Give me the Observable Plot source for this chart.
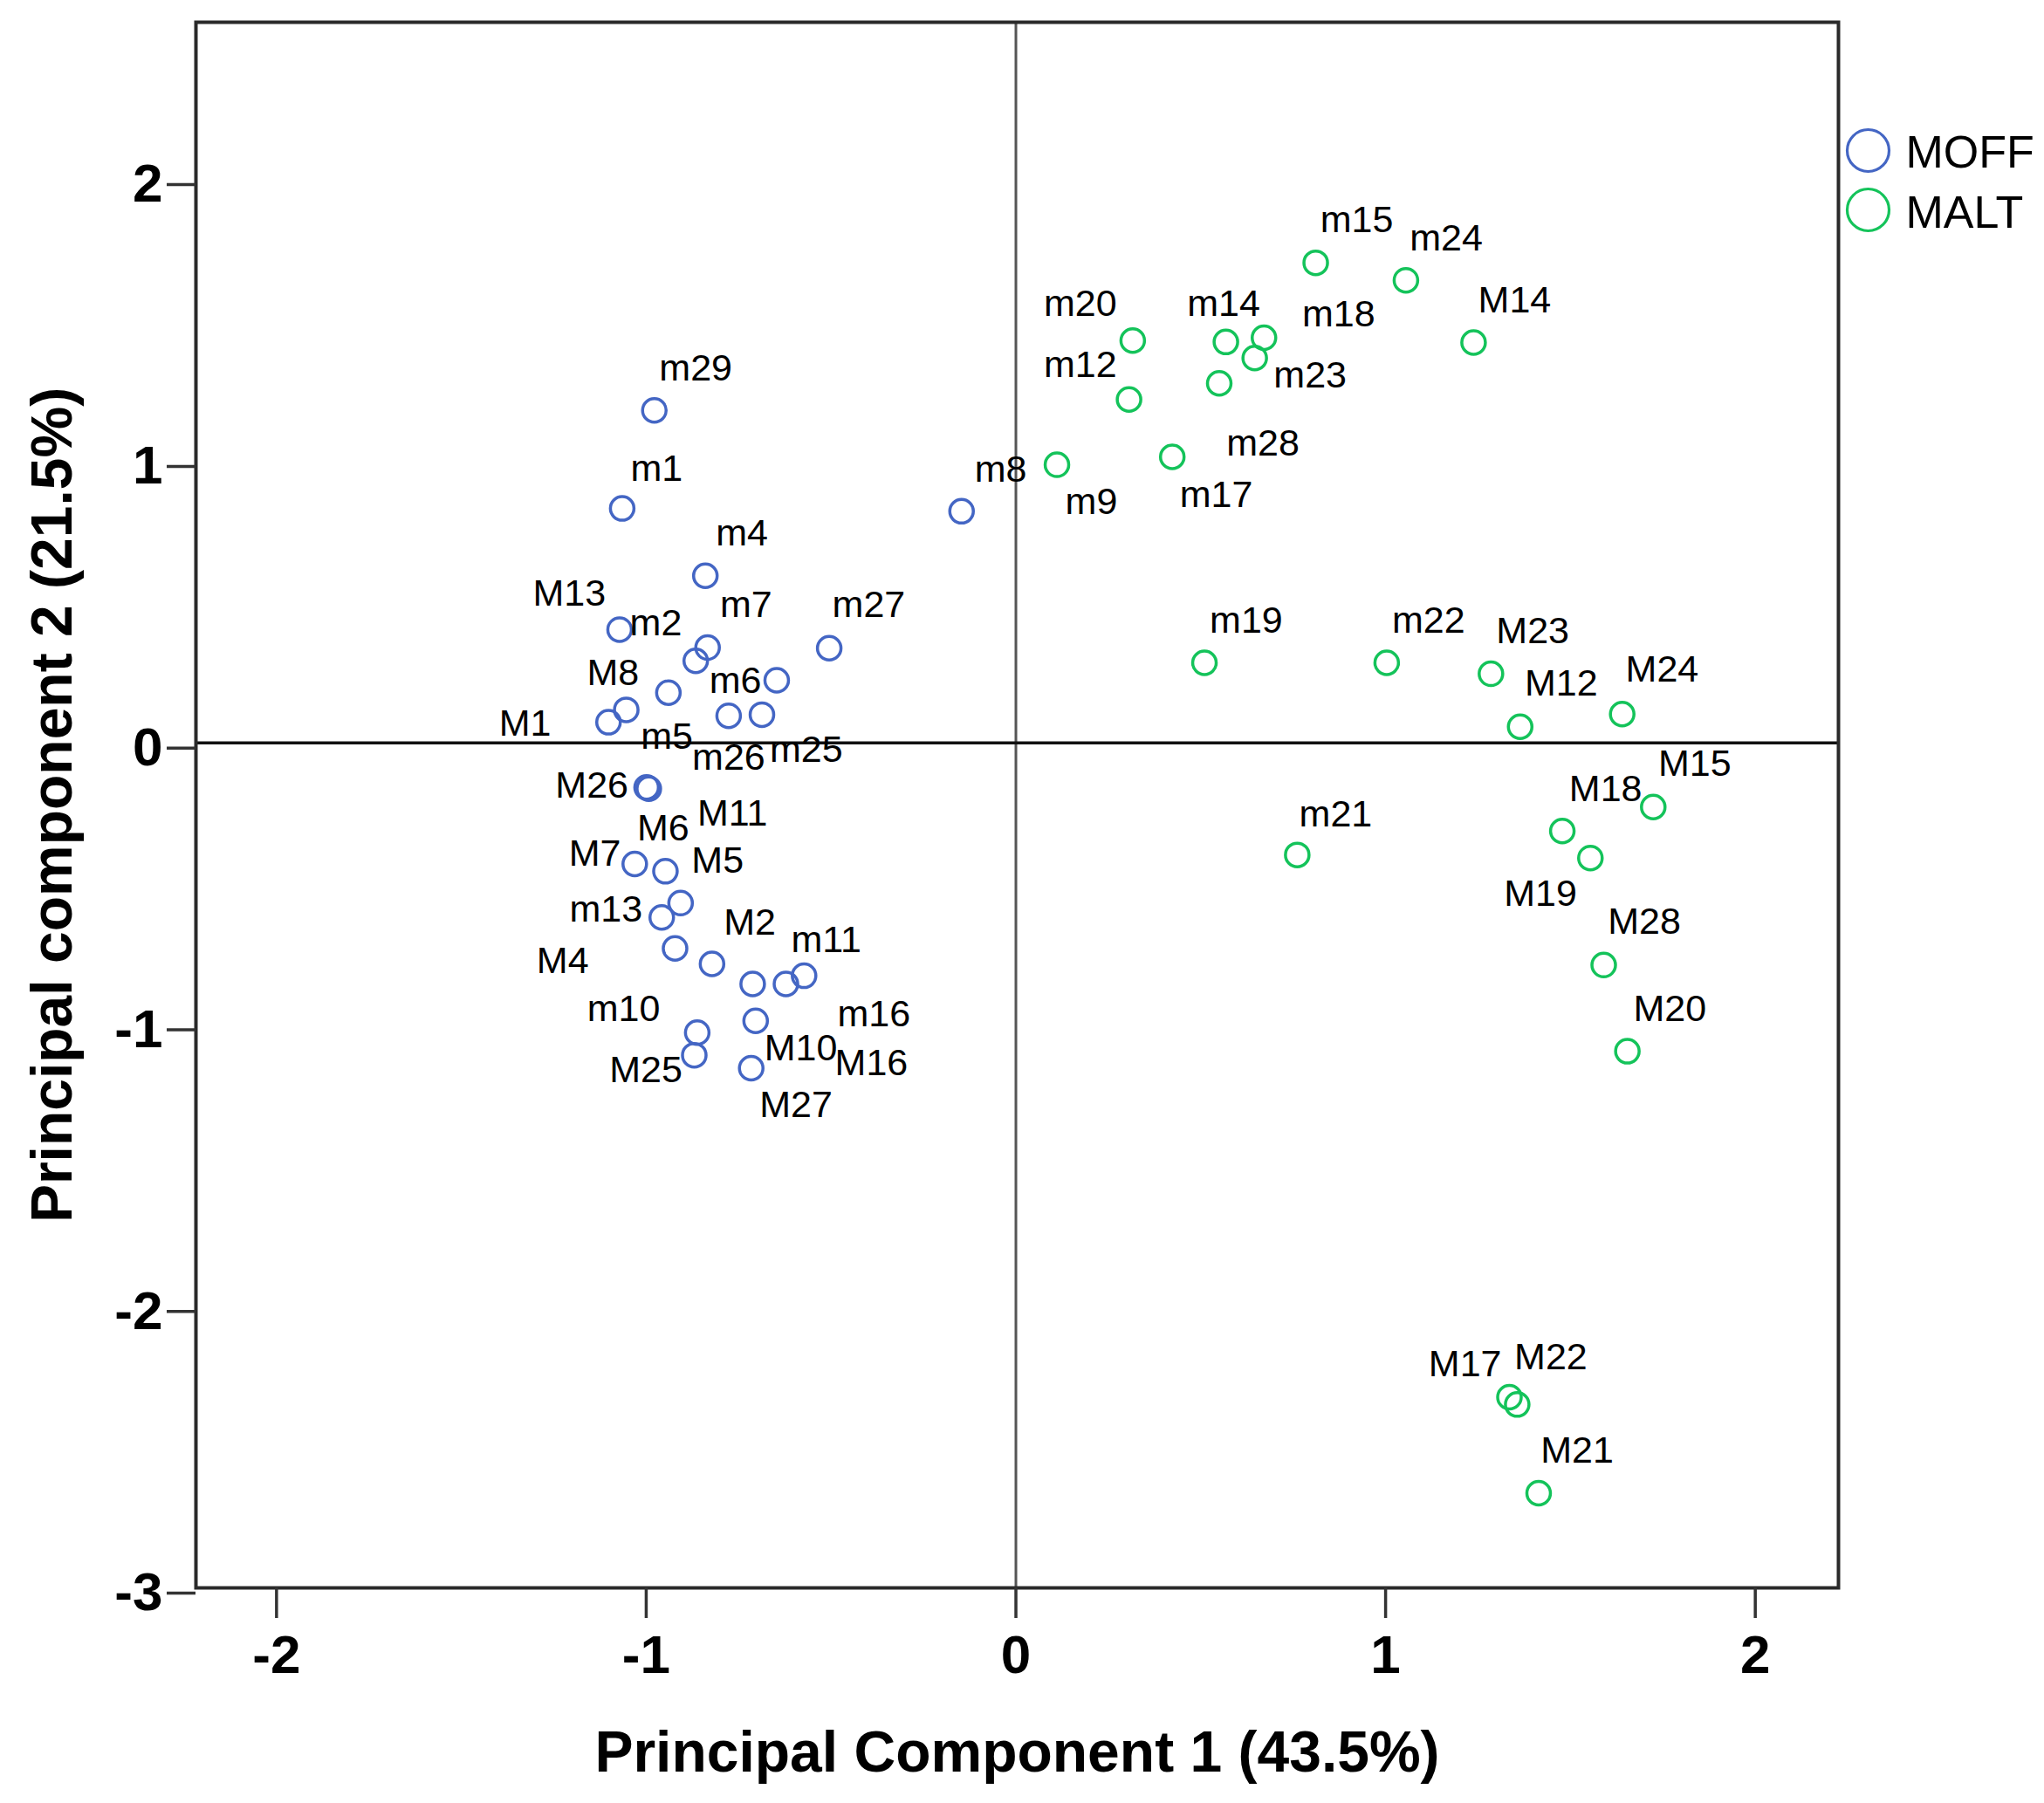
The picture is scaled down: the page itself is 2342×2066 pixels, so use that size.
<!DOCTYPE html>
<html>
<head>
<meta charset="utf-8">
<script src="https://cdn.jsdelivr.net/npm/d3@7"></script>
<script src="https://cdn.jsdelivr.net/npm/@observablehq/plot@0.6"></script>
<style>
  html, body { margin: 0; padding: 0; background: #fff; }
  #chart { width: 2342px; height: 2066px; }
</style>
</head>
<body>
<div id="chart"></div>
<script>
// ---- Data ----
const groups = ["MOFF", "MALT"];
const groupColors = ["#4466c4", "#14c35a"];

const moffNames = ["m29","m1","m4","M13","m7","m2","m27","m6","m5","M8","M1","m26","m25","M26","M6","M7","M5","M11","m13","M4","M2","M16","m16","m11","M10","m10","M25","M27","m8"];
const moffPC1 = [-0.978,-1.065,-0.840,-1.072,-0.834,-0.866,-0.505,-0.647,-0.940,-1.054,-1.102,-0.777,-0.687,-0.999,-0.993,-1.031,-0.948,-0.907,-0.958,-0.922,-0.822,-0.712,-0.622,-0.573,-0.704,-0.862,-0.870,-0.716,-0.147];
const moffPC2 = [1.180,0.832,0.593,0.402,0.338,0.291,0.336,0.222,0.178,0.117,0.073,0.096,0.100,-0.158,-0.163,-0.430,-0.456,-0.569,-0.620,-0.730,-0.785,-0.856,-0.856,-0.827,-0.987,-1.029,-1.109,-1.155,0.822];
const moffLabelX = [-0.866,-0.972,-0.741,-1.208,-0.730,-0.974,-0.398,-0.759,-0.944,-1.090,-1.328,-0.777,-0.567,-1.147,-0.954,-1.139,-0.807,-0.767,-1.109,-1.226,-0.720,-0.391,-0.384,-0.513,-0.582,-1.061,-1.001,-0.595,-0.041];
const moffLabelY = [1.330,0.973,0.744,0.529,0.489,0.423,0.488,0.221,0.020,0.248,0.067,-0.052,-0.024,-0.151,-0.303,-0.393,-0.420,-0.251,-0.592,-0.775,-0.637,-1.137,-0.965,-0.701,-1.083,-0.944,-1.161,-1.285,0.968];

const maltNames = ["m15","m24","M14","m20","m14","m18","m23","m28","m12","m9","m17","m19","m22","M23","M12","M24","M15","M18","M19","M28","M20","m21","M17","M22","M21"];
const maltPC1 = [0.811,1.055,1.238,0.316,0.568,0.671,0.646,0.550,0.306,0.111,0.423,0.510,1.003,1.285,1.364,1.640,1.724,1.478,1.554,1.590,1.654,0.761,1.335,1.356,1.414];
const maltPC2 = [1.704,1.642,1.421,1.428,1.423,1.438,1.366,1.276,1.219,0.987,1.015,0.284,0.284,0.245,0.057,0.102,-0.228,-0.313,-0.409,-0.789,-1.095,-0.398,-2.323,-2.349,-2.664];
const maltLabelX = [0.922,1.164,1.349,0.174,0.562,0.873,0.796,0.668,0.174,0.204,0.542,0.623,1.116,1.398,1.475,1.748,1.836,1.595,1.419,1.700,1.769,0.865,1.215,1.447,1.518];
const maltLabelY = [1.856,1.790,1.569,1.557,1.557,1.521,1.304,1.061,1.340,0.854,0.880,0.433,0.433,0.397,0.209,0.259,-0.076,-0.163,-0.535,-0.636,-0.944,-0.255,-2.207,-2.181,-2.514];

const xTicks = [-2, -1, 0, 1, 2];
const yTicks = [-3, -2, -1, 0, 1, 2];
const xTitle = "Principal Component 1 (43.5%)";
const yTitle = "Principal component 2 (21.5%)";

// ---- Build table ----
const rows = [
  ...moffNames.map((n, i) => ({name: n, group: "MOFF", pc1: moffPC1[i], pc2: moffPC2[i], lx: moffLabelX[i], ly: moffLabelY[i]})),
  ...maltNames.map((n, i) => ({name: n, group: "MALT", pc1: maltPC1[i], pc2: maltPC2[i], lx: maltLabelX[i], ly: maltLabelY[i]}))
];

const FONT = "'Liberation Sans', Arial, sans-serif";

// legend entries: one dot + one text per group, stacked below the frame's top-right corner
const legendMarks = groups.flatMap((g, i) => [
  Plot.dot([g], {frameAnchor: "top-right", dx: 34, dy: 147 + 68 * i, stroke: d => d, r: 24, strokeWidth: 3.2, fill: "none"}),
  Plot.text([g], {frameAnchor: "top-right", dx: 77, dy: 150 + 69 * i, text: d => d, fontSize: 52, fill: "#000", textAnchor: "start", lineAnchor: "middle"})
]);

const chart = Plot.plot({
  width: 2342,
  height: 2066,
  marginLeft: 224,
  marginRight: 236,
  marginTop: 25,
  marginBottom: 247,
  style: {fontFamily: FONT, background: "#fff", color: "#000", overflow: "visible"},
  x: {domain: [-2.218, 2.225]},
  y: {domain: [-3, 2.558]},
  color: {domain: groups, range: groupColors},
  marks: [
    Plot.ruleX([0], {stroke: "#555", strokeWidth: 3}),
    Plot.ruleY([0], {stroke: "#111", strokeWidth: 3.5}),
    Plot.frame({stroke: "#2a2a2a", strokeWidth: 4}),
    Plot.axisX({ticks: xTicks, tickFormat: d => String(d), tickSize: 35, tickPadding: 18, fontSize: 62, fontWeight: "bold", stroke: "#333", strokeWidth: 3.5, fill: "#000", label: null}),
    Plot.axisY({ticks: yTicks, tickFormat: d => String(d), tickSize: 33, tickPadding: 5, fontSize: 62, fontWeight: "bold", dy: 6, stroke: "#333", strokeWidth: 3.5, fill: "#000", label: null}),
    Plot.dot(rows, {x: "pc1", y: "pc2", stroke: "group", r: 13.5, strokeWidth: 3.5, fill: "none"}),
    Plot.text(rows, {x: "lx", y: "ly", text: "name", fontSize: 43, fill: "#000", textAnchor: "middle", lineAnchor: "middle"}),
    // axis titles
    Plot.text([xTitle], {text: d => d, frameAnchor: "bottom", dy: 189, fontSize: 66, fontWeight: "bold", fill: "#000", textAnchor: "middle", lineAnchor: "middle"}),
    Plot.text([yTitle], {text: d => d, frameAnchor: "left", dx: -164, rotate: -90, fontSize: 66, fontWeight: "bold", fill: "#000", textAnchor: "middle", lineAnchor: "middle"}),
    ...legendMarks
  ]
});
document.getElementById("chart").appendChild(chart);
</script>
</body>
</html>
